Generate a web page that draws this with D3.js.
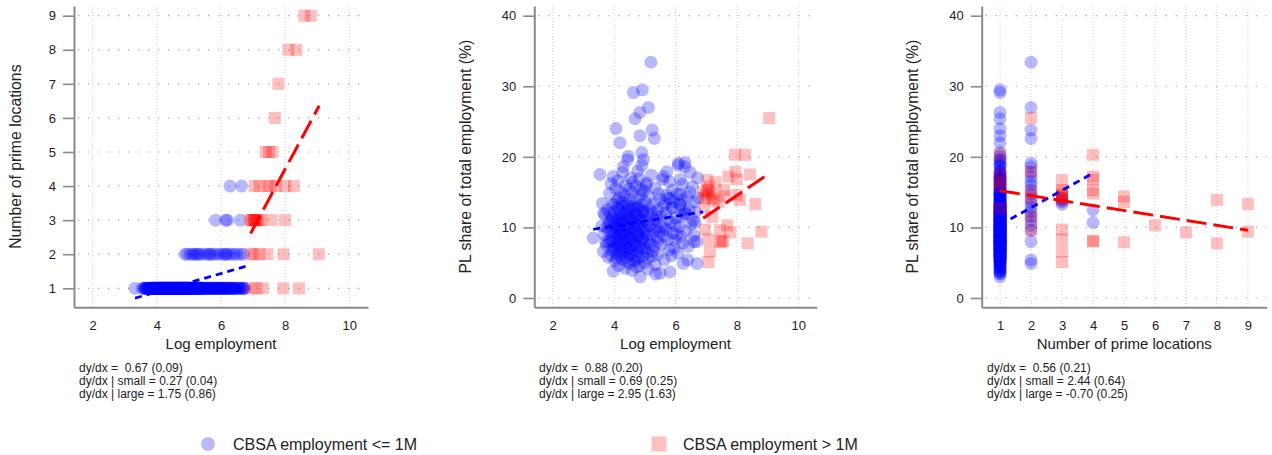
<!DOCTYPE html>
<html><head><meta charset="utf-8">
<script src="https://cdn.jsdelivr.net/npm/d3@7"></script>
<style>
body{margin:0;background:#fff;}
svg{display:block;font-family:"Liberation Sans",Arial,sans-serif;}
text{white-space:pre;}
</style></head><body>
<svg id="chart" width="1272" height="455"></svg>
<script>
// CBSAs with employment <= 1M: [log employment, number of prime locations, PL share of employment (%)]
const smallCbsa = [
  [3.32,1,8.5],[3.54,1,17.5],[3.6,1,10.2],[3.62,1,13.4],[3.65,1,6.6],[3.68,1,9.0],[3.7,1,11.8],
  [3.66,1,12.0],[3.72,1,8.0],[3.76,1,10.0],
  [3.75,1,7.5],[3.78,1,12.5],[3.8,1,5.8],[3.82,1,9.6],[3.85,1,14.8],[3.86,1,10.8],[3.88,1,8.2],[3.9,1,16.2],
  [3.92,1,6.8],[3.94,1,11.5],[3.95,1,13.2],[3.97,1,17.2],[3.97,1,3.8],[3.98,1,9.2],[3.99,1,7.2],
  [3.81,1,10.4],[3.84,1,7.9],[3.87,1,12.0],[3.89,1,6.1],[3.91,1,9.0],[3.93,1,11.1],[3.96,1,8.0],[3.99,1,10.6],
  [4.0,1,6.9],[4.02,1,13.3],[4.04,1,9.4],[4.06,1,7.4],[4.08,1,5.6],[4.1,1,11.4],[4.12,1,8.4],[4.14,1,10.0],
  [4.16,1,6.7],[4.18,1,12.4],[4.2,1,9.2],[4.22,1,7.6],
  [4.01,1,12.2],[4.02,1,10.1],[4.03,1,5.2],[4.05,1,15.5],[4.06,1,24.0],[4.07,1,8.6],[4.08,1,11.0],[4.09,1,6.3],
  [4.1,1,13.8],[4.11,1,9.5],[4.12,1,16.6],[4.13,1,7.7],[4.14,1,12.8],[4.15,1,4.6],[4.16,1,10.5],[4.17,1,14.2],
  [4.18,1,8.9],[4.19,1,22.0],[4.2,1,6.0],[4.21,1,11.8],[4.22,1,9.9],[4.23,1,15.0],[4.24,1,7.1],[4.25,1,13.0],
  [4.26,1,5.5],[4.27,1,10.8],[4.28,1,17.8],[4.29,1,8.3],
  [4.24,1,11.0],[4.26,1,8.0],[4.28,1,13.6],[4.3,1,6.2],[4.32,1,10.6],[4.34,1,8.9],[4.36,1,12.2],[4.38,1,7.2],
  [4.4,1,9.6],[4.42,1,5.2],[4.44,1,11.4],[4.46,1,8.1],[4.48,1,13.0],[4.5,1,7.0],[4.52,1,9.9],[4.54,1,6.0],
  [4.56,1,11.2],[4.58,1,8.3],[4.6,1,12.8],[4.62,1,6.8],
  [4.3,1,18.6],[4.31,1,12.0],[4.32,1,6.6],[4.33,1,9.3],[4.34,1,14.5],[4.35,1,11.2],[4.36,1,4.2],[4.37,1,7.9],
  [4.38,1,16.0],[4.39,1,10.3],[4.4,1,13.4],[4.41,1,5.8],[4.42,1,8.7],[4.43,1,12.6],[4.44,1,19.6],[4.45,1,9.8],
  [4.46,1,20.1],[4.47,1,7.0],[4.48,1,15.4],[4.49,1,11.5],[4.5,1,4.9],[4.51,1,10.0],[4.52,1,13.9],[4.53,1,6.4],
  [4.54,1,17.0],[4.55,1,8.5],[4.56,1,12.3],[4.57,1,9.1],[4.58,1,3.9],[4.59,1,14.9],
  [4.6,1,11.0],[4.61,1,7.5],[4.62,1,16.4],[4.63,1,29.1],[4.64,1,5.3],[4.65,1,10.6],[4.66,1,13.1],[4.67,1,8.0],
  [4.68,1,25.4],[4.69,1,12.0],[4.7,1,6.1],[4.71,1,15.8],[4.72,1,9.4],[4.73,1,11.7],[4.74,1,4.4],[4.75,1,14.0],
  [4.76,1,7.4],[4.77,1,18.0],[4.78,1,10.2],[4.79,1,12.9],[4.8,1,5.7],[4.81,1,8.8],[4.82,1,16.9],[4.84,1,26.3],
  [4.84,1,23.0],[4.85,1,3.0],[4.86,1,11.3],[4.87,1,9.6],[4.88,1,14.6],[4.9,1,20.6],[4.9,1,18.8],[4.91,1,6.9],
  [4.92,1,29.5],[4.93,1,12.5],[4.94,1,8.4],[4.95,1,19.6],[4.96,1,10.9],[4.97,1,15.2],[4.98,1,5.0],[4.99,1,7.8],
  [4.64,1,9.8],[4.66,1,7.6],[4.68,1,11.6],[4.7,1,5.4],[4.72,1,10.4],[4.74,1,8.6],[4.76,1,12.6],[4.78,1,6.6],
  [4.8,1,9.0],[4.82,1,4.6],[4.84,1,11.0],[4.86,1,7.2],[4.88,1,13.2],[4.9,1,8.2],[4.92,1,10.0],[4.94,1,5.9],
  [4.96,1,12.0],[4.98,1,9.2],
  [5.01,1,13.6],[5.03,1,9.7],[5.05,1,16.3],[5.07,1,6.5],[5.09,1,11.9],[5.11,1,4.1],[5.13,1,14.4],[5.15,1,8.1],
  [5.17,1,12.7],[5.19,1,10.4],[5.21,1,17.4],[5.23,1,5.9],[5.25,1,9.0],[5.27,1,13.3],[5.29,1,7.3],[5.31,1,11.1],
  [5.33,1,15.6],[5.35,1,3.4],[5.37,1,10.0],[5.39,1,8.6],[5.41,1,12.4],[5.43,1,6.2],[5.45,1,14.8],[5.47,1,9.4],
  [5.5,1,3.5],
  [5.02,1,7.0],[5.04,1,11.0],[5.06,1,8.8],[5.1,1,5.6],[5.14,1,10.2],[5.18,1,7.6],[5.22,1,12.2],[5.26,1,6.6],
  [5.3,1,9.6],[5.34,1,4.7],[5.38,1,11.6],[5.42,1,8.0],
  [5.52,1,11.6],[5.55,1,7.6],[5.58,1,16.8],[5.6,1,13.0],[5.63,1,5.4],[5.66,1,9.9],[5.69,1,12.1],[5.72,1,17.9],
  [5.75,1,8.3],[5.78,1,14.1],[5.8,1,6.8],[5.82,1,3.7],[5.85,1,10.7],[5.88,1,12.8],[5.9,1,15.3],[5.93,1,9.2],
  [5.96,1,7.1],[5.98,1,8.2],
  [5.56,1,10.0],[5.62,1,8.8],[5.7,1,14.6],[5.76,1,11.2],[5.86,1,6.0],[5.95,1,13.6],
  [6.02,1,11.4],[6.05,1,14.7],[6.08,1,6.4],[6.09,1,18.8],[6.12,1,10.1],[6.15,1,13.2],[6.18,1,8.7],[6.22,1,16.1],
  [6.25,1,4.9],[6.28,1,11.9],[6.31,1,19.2],[6.35,1,9.5],[6.38,1,14.3],[6.42,1,7.3],[6.45,1,12.6],[6.5,1,10.5],
  [6.55,1,15.8],[6.6,1,8.9],[6.65,1,12.2],[6.69,1,8.0],[6.72,1,17.0],[6.74,1,14.2],
  [6.04,1,9.0],[6.16,1,16.8],[6.24,1,7.8],[6.34,1,12.0],[6.46,1,15.0],[6.58,1,11.0],
  [4.88,2,15.3],[4.95,2,12.2],[5.05,2,16.0],[5.12,2,27.0],[5.2,2,33.4],[5.24,2,23.8],[5.31,2,22.6],[5.38,2,11.0],
  [5.5,2,14.0],[5.6,2,17.2],[5.65,2,13.4],[5.7,2,9.6],[5.8,2,16.5],[5.9,2,12.8],[6.0,2,10.3],[6.1,2,19.1],
  [6.15,2,14.7],[6.2,2,11.6],[6.3,2,18.6],[6.4,2,5.4],[6.48,2,17.8],[6.6,2,8.0],[6.7,2,4.9],
  [5.83,3,14.1],[6.15,3,13.3],[6.2,3,13.9],[6.6,3,13.6],
  [6.28,4,12.5],[6.64,4,10.7]
];

// CBSAs with employment > 1M
const largeCbsa = [
  [6.95,1,12.7],[7.1,1,15.8],[7.3,1,16.4],[7.94,1,20.3],[8.43,1,17.5],
  [6.95,2,14.1],[7.05,2,15.1],[7.2,2,11.5],[7.45,2,9.6],[7.95,2,17.9],[9.05,2,25.5],
  [6.96,3,9.7],[7.07,3,8.3],[7.12,3,6.6],[7.07,3,5.1],[6.9,3,15.0],[7.0,3,14.5],[7.03,3,16.7],
  [7.18,3,14.2],[7.25,3,13.9],[7.58,3,15.3],[8.0,3,14.6],
  [7.05,4,15.3],[7.2,4,14.8],[7.45,4,8.0],[7.55,4,8.1],[7.72,4,17.2],[8.0,4,16.8],[8.27,4,20.3],
  [7.4,5,13.6],[7.6,5,14.4],[7.5,5,7.9],
  [7.68,6,10.3],
  [7.79,7,9.3],
  [8.1,8,13.9],[8.35,8,7.75],
  [8.6,9,13.3],[8.8,9,9.4]
];

// Marginal effects reported under each panel (estimate, standard error)
const slopeAll   = [0.67, 0.88, 0.56];
const seAll      = [0.09, 0.20, 0.21];
const slopeSmall = [0.27, 0.69, 2.44];
const seSmall    = [0.04, 0.25, 0.64];
const slopeLarge = [1.75, 2.95, -0.70];
const seLarge    = [0.86, 1.63, 0.25];

// Fitted-line spans (x range) and starting values
const smallFitX  = [[3.32, 6.85], [3.32, 6.9], [1, 4]];
const smallFitY0 = [0.71, 9.73, 10.37];
const largeFitX  = [[6.92, 9.06], [6.9, 9.06], [1, 9]];
const largeFitY0 = [2.61, 11.29, 15.2];

// Axis ticks and titles
const logTicks   = [2, 4, 6, 8, 10];
const primeTicks = [1, 2, 3, 4, 5, 6, 7, 8, 9];
const shareTicks = [0, 10, 20, 30, 40];
const xTitles = ["Log employment", "Log employment", "Number of prime locations"];
const yTitles = ["Number of prime locations", "PL share of total employment (%)", "PL share of total employment (%)"];
const legendLabels = ["CBSA employment <= 1M", "CBSA employment > 1M"];

const fmt = v => v.toFixed(2);

const panels = [
  { frame: {l: 74, r: 368, t: 6, b: 307.3}, xd: [1.417, 10.583], yd: [0.442, 9.285],
    xt: logTicks, yt: primeTicks, px: d => d[0], py: d => d[1], titleX: 15, noteX: 79 },
  { frame: {l: 534.3, r: 816.7, t: 6, b: 307.3}, xd: [1.4, 10.6], yd: [-1.318, 41.374],
    xt: logTicks, yt: shareTicks, px: d => d[0], py: d => d[2], titleX: 465, noteX: 539 },
  { frame: {l: 981.7, r: 1266.7, t: 6, b: 307.3}, xd: [0.408, 9.605], yd: [-1.318, 41.374],
    xt: primeTicks, yt: shareTicks, px: d => d[1], py: d => d[2], titleX: 912, noteX: 987 }
];

const svg = d3.select("#chart");
const axisGray = "#8a8a8a";
const textColor = "#222";

panels.forEach((p, i) => {
  const f = p.frame;
  const x = d3.scaleLinear().domain(p.xd).range([f.l, f.r]);
  const y = d3.scaleLinear().domain(p.yd).range([f.b, f.t]);
  const g = svg.append("g");

  // grid
  g.append("g").selectAll("line").data(p.yt).join("line")
    .attr("x1", f.l + 4).attr("x2", f.r).attr("y1", d => y(d)).attr("y2", d => y(d))
    .attr("stroke", "#a8a8a8").attr("stroke-width", 1.2).attr("stroke-dasharray", "1.3,8.7");
  g.append("g").selectAll("line").data(p.xt).join("line")
    .attr("y1", f.t).attr("y2", f.b).attr("x1", d => x(d)).attr("x2", d => x(d))
    .attr("stroke", "#cfcfcf").attr("stroke-width", 1).attr("stroke-dasharray", "1,2");

  // axes
  const ax = g.append("g").attr("transform", `translate(0,${f.b})`)
    .call(d3.axisBottom(x).tickValues(p.xt).tickFormat(d3.format("d")).tickSize(0).tickPadding(13.5).tickSizeOuter(0));
  const ay = g.append("g").attr("transform", `translate(${f.l},0)`)
    .call(d3.axisLeft(y).tickValues(p.yt).tickFormat(d3.format("d")).tickSize(11).tickPadding(7).tickSizeOuter(0));
  [ax, ay].forEach(a => {
    a.select(".domain").attr("stroke", axisGray).attr("stroke-width", 2);
    a.selectAll(".tick line").attr("stroke", axisGray).attr("stroke-width", 1.6);
    a.selectAll(".tick text").attr("fill", textColor).style("font-size", "13px")
      .style("font-family", "'Liberation Sans', Arial, sans-serif");
  });

  // points
  g.append("g").selectAll("circle").data(smallCbsa).join("circle")
    .attr("cx", d => x(p.px(d))).attr("cy", d => y(p.py(d))).attr("r", 6.5)
    .attr("fill", "rgb(0,0,255)").attr("fill-opacity", 0.28);
  const s = 12;
  g.append("g").selectAll("rect").data(largeCbsa).join("rect")
    .attr("x", d => x(p.px(d)) - s / 2).attr("y", d => y(p.py(d)) - s / 2)
    .attr("width", s).attr("height", s)
    .attr("fill", "rgb(255,0,0)").attr("fill-opacity", 0.25);

  // fitted lines
  const fitLine = (xs, y0, b) => xs.map(v => [v, y0 + b * (v - xs[0])]);
  const line = d3.line().x(d => x(d[0])).y(d => y(d[1]));
  g.append("path").attr("d", line(fitLine(smallFitX[i], smallFitY0[i], slopeSmall[i])))
    .attr("stroke", "#0000ff").attr("stroke-width", 2.8).attr("fill", "none")
    .attr("stroke-dasharray", "7,5");
  g.append("path").attr("d", line(fitLine(largeFitX[i], largeFitY0[i], slopeLarge[i])))
    .attr("stroke", "#ff0000").attr("stroke-width", 3).attr("fill", "none")
    .attr("stroke-dasharray", "20,7");

  // titles
  g.append("text").attr("x", (f.l + f.r) / 2).attr("y", 349).attr("text-anchor", "middle")
    .attr("fill", textColor).style("font-size", "15px").text(xTitles[i]);
  g.append("text").attr("transform", `translate(${p.titleX},${(f.t + f.b) / 2}) rotate(-90)`)
    .attr("text-anchor", "middle").attr("dy", "0.35em")
    .attr("fill", textColor).style("font-size", "15.8px").text(yTitles[i]);

  // marginal-effect notes
  const notes = [
    `dy/dx =  ${fmt(slopeAll[i])} (${fmt(seAll[i])})`,
    `dy/dx | small = ${fmt(slopeSmall[i])} (${fmt(seSmall[i])})`,
    `dy/dx | large = ${fmt(slopeLarge[i])} (${fmt(seLarge[i])})`
  ];
  g.append("g").selectAll("text").data(notes).join("text")
    .attr("x", p.noteX).attr("y", (d, k) => 372 + k * 13)
    .attr("fill", textColor).style("font-size", "12px").text(d => d);
});

// legend
const lg = svg.append("g");
lg.append("circle").attr("cx", 208).attr("cy", 444).attr("r", 7)
  .attr("fill", "rgb(0,0,255)").attr("fill-opacity", 0.28);
lg.append("text").attr("x", 233).attr("y", 449.5).attr("fill", textColor)
  .style("font-size", "16px").text(legendLabels[0]);
lg.append("rect").attr("x", 651.5).attr("y", 436.5).attr("width", 15).attr("height", 15)
  .attr("fill", "rgb(255,0,0)").attr("fill-opacity", 0.25);
lg.append("text").attr("x", 683).attr("y", 449.5).attr("fill", textColor)
  .style("font-size", "16px").text(legendLabels[1]);
</script></body></html>
